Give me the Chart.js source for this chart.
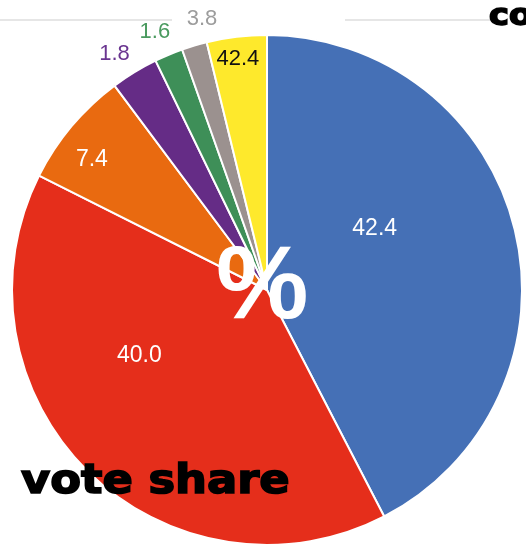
<!DOCTYPE html>
<html>
<head>
<meta charset="utf-8">
<script src="https://cdn.jsdelivr.net/npm/chart.js@4/dist/chart.umd.min.js"></script>
<style>
  html, body { margin: 0; padding: 0; background: #fff; overflow: hidden; }
  #wrap { position: relative; width: 526px; height: 552px; overflow: hidden; }
  canvas { position: absolute; left: 0; top: 0; }
  .rule { position: absolute; top: 19px; height: 2px; background: #e6e6e6; }
  .big { position: absolute; font-family: "DejaVu Sans", sans-serif; font-weight: bold;
         line-height: 1; white-space: nowrap; transform-origin: 0 0; color: #000;
         -webkit-text-stroke: 1.6px #000; }
  #pct { position: absolute; left: 216px; top: 230px; font-family: "Liberation Sans", Arial, sans-serif;
         font-weight: bold; font-size: 104px; line-height: 1; color: #fff; }
</style>
</head>
<body>
<div id="wrap">
  <div class="rule" style="left:0; width:172px;"></div>
  <div class="rule" style="left:345px; width:145px;"></div>
  <canvas id="pieChart" width="526" height="552"></canvas>
  <div id="pct">%</div>
  <div class="big" style="left:21px; top:459px; font-size:40px; transform:scaleX(1.12);">vote share</div>
  <div class="big" style="left:489px; top:0px; font-size:30px; transform:scaleX(1.12);">co</div>
</div>
<script>
        const parties = ['Blue', 'Red', 'Orange', 'Purple', 'Green', 'Grey', 'Yellow'];
        const voteShare = [42.4, 40.0, 7.4, 3.0, 1.8, 1.6, 3.8];
        // the numbers printed on the picture (not all match their slice)
        const shownLabels = ['42.4', '40.0', '7.4', '1.8', '1.6', '3.8', '42.4'];
        const sliceColors = ['#4570b6', '#e52e1b', '#e96a10', '#652c86', '#3e8f58', '#9b918f', '#fee92c'];
        const labelColors = ['#ffffff', '#ffffff', '#ffffff', '#6a3590', '#4a9a5f', '#9c9c9c', '#111111'];

        // where each label sits: fraction along the arc, fraction of the radius
        const labelPlacement = [
            { f: 0.39, r: 0.49 },
            { f: 0.63, r: 0.56 },
            { f: 0.39, r: 0.86 },
            { f: 0.38, r: 1.11 },
            { f: 0.40, r: 1.11 },
            { f: 1.05, r: 1.10 },
            { f: 0.48, r: 0.92 }
        ];

        const sliceLabels = {
            id: 'sliceLabels',
            afterDatasetsDraw(chart) {
                const ctx = chart.ctx;
                const meta = chart.getDatasetMeta(0);
                meta.data.forEach((arc, i) => {
                    const p = labelPlacement[i];
                    const a = arc.startAngle + (arc.endAngle - arc.startAngle) * p.f;
                    const r = arc.outerRadius * p.r;
                    const size = i < 3 ? 23 : 22;
                    ctx.save();
                    ctx.font = size + 'px "Liberation Sans", Arial, sans-serif';
                    ctx.fillStyle = labelColors[i];
                    ctx.textAlign = 'center';
                    ctx.textBaseline = 'alphabetic';
                    ctx.fillText(shownLabels[i], arc.x + Math.cos(a) * r, arc.y + Math.sin(a) * r + size * 0.36);
                    ctx.restore();
                });
            }
        };

        const pieCtx = document.getElementById('pieChart');
        new Chart(pieCtx, {
            type: 'pie',
            data: {
                labels: parties,
                datasets: [{
                    data: voteShare,
                    backgroundColor: sliceColors,
                    borderColor: '#ffffff',
                    borderWidth: 2
                }]
            },
            options: {
                responsive: false,
                animation: false,
                layout: { padding: { left: 11, right: 3, top: 34, bottom: 6 } },
                plugins: {
                    legend: { display: false },
                    tooltip: { enabled: false }
                }
            },
            plugins: [sliceLabels]
        });
</script>
</body>
</html>
